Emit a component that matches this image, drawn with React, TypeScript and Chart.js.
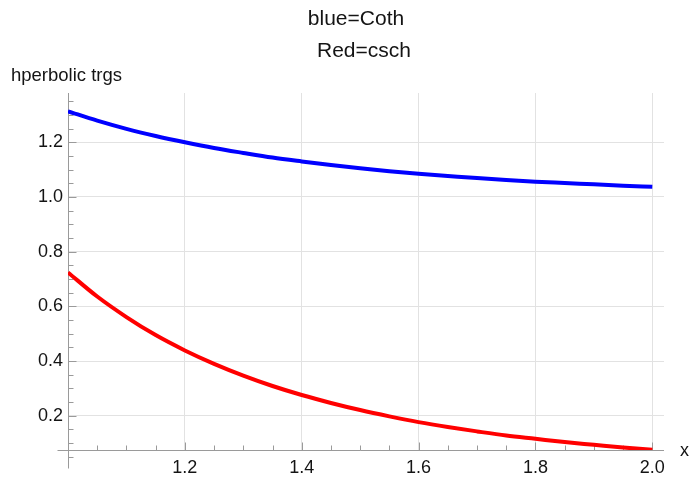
import React, { useEffect, useRef } from "react";
import { Chart, registerables } from "chart.js";

Chart.register(...registerables);

// ---- data ----
const xValues = [
  1.0, 1.05, 1.1, 1.15, 1.2, 1.25, 1.3, 1.35, 1.4, 1.45, 1.5,
  1.55, 1.6, 1.65, 1.7, 1.75, 1.8, 1.85, 1.9, 1.95, 2.0,
];
const blueCothValues = [
  1.313, 1.279, 1.249, 1.223, 1.2, 1.179, 1.161, 1.144, 1.13, 1.117, 1.105,
  1.094, 1.085, 1.077, 1.069, 1.062, 1.056, 1.051, 1.046, 1.041, 1.037,
];
const redCschValues = [
  0.724, 0.636, 0.561, 0.495, 0.439, 0.39, 0.347, 0.309, 0.276, 0.247, 0.221,
  0.198, 0.177, 0.159, 0.143, 0.128, 0.116, 0.104, 0.094, 0.084, 0.076,
];
const xTickLabels = [1.2, 1.4, 1.6, 1.8, 2.0];
const yTickLabels = [0.2, 0.4, 0.6, 0.8, 1.0, 1.2];
const xMinorTicks = [
  1.05, 1.1, 1.15, 1.25, 1.3, 1.35, 1.45, 1.5, 1.55, 1.65, 1.7, 1.75, 1.85, 1.9, 1.95,
];
const yMinorTicks = [
  0.05, 0.1, 0.15, 0.25, 0.3, 0.35, 0.45, 0.5, 0.55, 0.65, 0.7, 0.75, 0.85, 0.9,
  0.95, 1.05, 1.1, 1.15, 1.25, 1.3, 1.35,
];
const titleLines = ["blue=Coth", "Red=csch"];
const yAxisTitle = "hperbolic trgs";
const xAxisTitle = "x";
const xRange = [1.0, 2.02];
const yRange = [0.075, 1.38];

const FONT = "'Liberation Sans', Arial, Helvetica, sans-serif";
const TEXT = "#141414";
const AXIS = "#9a9a9a";
const GRID = "#e2e2e2";

const mmaPlugin = {
  id: "mmaAxes",
  beforeDatasetsDraw(chart: any) {
    const { ctx, chartArea, scales } = chart;
    const xs = scales.x;
    const ys = scales.y;
    const ax = Math.round(xs.getPixelForValue(xRange[0])) + 0.5;
    const ay = Math.round(ys.getPixelForValue(yRange[0])) + 0.5;
    ctx.save();
    ctx.strokeStyle = AXIS;
    ctx.lineWidth = 1;
    ctx.beginPath();
    // axes with Mathematica-style overhang
    ctx.moveTo(ax - 11, ay);
    ctx.lineTo(chartArea.right, ay);
    ctx.moveTo(ax, chartArea.top);
    ctx.lineTo(ax, ay + 18);
    // minor ticks
    xMinorTicks.forEach((v) => {
      const p = Math.round(xs.getPixelForValue(v)) + 0.5;
      ctx.moveTo(p, ay);
      ctx.lineTo(p, ay - 5);
    });
    yMinorTicks.forEach((v) => {
      const p = Math.round(ys.getPixelForValue(v)) + 0.5;
      ctx.moveTo(ax, p);
      ctx.lineTo(ax + 5, p);
    });
    // major ticks
    xTickLabels.forEach((v) => {
      const p = Math.round(xs.getPixelForValue(v)) + 0.5;
      ctx.moveTo(p, ay);
      ctx.lineTo(p, ay - 8);
    });
    yTickLabels.forEach((v) => {
      const p = Math.round(ys.getPixelForValue(v)) + 0.5;
      ctx.moveTo(ax, p);
      ctx.lineTo(ax + 8, p);
    });
    ctx.stroke();
    ctx.restore();
  },
  afterDraw(chart: any) {
    const { ctx, chartArea, scales } = chart;
    ctx.save();
    ctx.fillStyle = TEXT;
    ctx.textBaseline = "alphabetic";
    ctx.textAlign = "center";
    ctx.font = `21px ${FONT}`;
    ctx.fillText(titleLines[0], 356, 25);
    ctx.fillText(titleLines[1], 364, 57);
    ctx.textAlign = "left";
    ctx.font = `18.5px ${FONT}`;
    ctx.fillText(yAxisTitle, 11, chartArea.top - 12.5);
    ctx.font = `18px ${FONT}`;
    ctx.fillText(xAxisTitle, chartArea.right + 16, scales.y.getPixelForValue(yRange[0]) + 6);
    ctx.restore();
  },
};

export default function App() {
  const canvasRef = useRef<HTMLCanvasElement | null>(null);

  useEffect(() => {
    const canvas = canvasRef.current;
    if (!canvas) return;
    const chart = new Chart(canvas, {
      type: "line",
      data: {
        datasets: [
          {
            label: "Coth",
            data: xValues.map((x, i) => ({ x, y: blueCothValues[i] })),
            borderColor: "#0000ff",
            borderWidth: 4,
            pointRadius: 0,
            fill: false,
            cubicInterpolationMode: "monotone",
            borderCapStyle: "butt",
          },
          {
            label: "csch",
            data: xValues.map((x, i) => ({ x, y: redCschValues[i] })),
            borderColor: "#ff0000",
            borderWidth: 4,
            pointRadius: 0,
            fill: false,
            cubicInterpolationMode: "monotone",
            borderCapStyle: "butt",
          },
        ],
      },
      options: {
        animation: false,
        responsive: false,
        devicePixelRatio: 1,
        layout: { padding: { left: 0, right: 26, top: 93, bottom: 0 } },
        plugins: {
          legend: { display: false },
          tooltip: { enabled: false },
          title: { display: false },
        },
        scales: {
          x: {
            type: "linear",
            min: xRange[0],
            max: xRange[1],
            afterBuildTicks: (s: any) => {
              s.ticks = xTickLabels.map((v) => ({ value: v }));
            },
            afterFit: (s: any) => {
              s.height = 27;
            },
            border: { display: false },
            grid: { color: GRID, lineWidth: 1, drawTicks: false },
            ticks: {
              color: TEXT,
              font: { family: FONT, size: 18 },
              padding: 7,
              maxRotation: 0,
              autoSkip: false,
              callback: (v: any) => Number(v).toFixed(1),
            },
          },
          y: {
            type: "linear",
            min: yRange[0],
            max: yRange[1],
            afterBuildTicks: (s: any) => {
              s.ticks = yTickLabels.map((v) => ({ value: v }));
            },
            afterFit: (s: any) => {
              s.width = 68;
            },
            border: { display: false },
            grid: { color: GRID, lineWidth: 1, drawTicks: false },
            ticks: {
              color: TEXT,
              font: { family: FONT, size: 18 },
              padding: 5,
              autoSkip: false,
              callback: (v: any) => Number(v).toFixed(1),
            },
          },
        },
      },
      plugins: [mmaPlugin],
    });
    return () => chart.destroy();
  }, []);

  return (
    <div style={{ position: "fixed", left: 0, top: 0, width: 690, height: 477, background: "#fff" }}>
      <canvas ref={canvasRef} width={690} height={477} />
    </div>
  );
}
